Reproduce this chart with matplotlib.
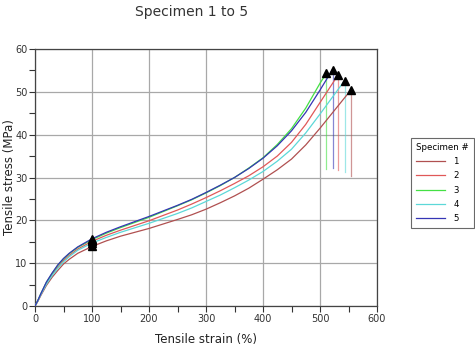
import matplotlib
matplotlib.use("Agg")
import matplotlib.pyplot as plt
from matplotlib.ticker import MultipleLocator

strain = [0, 5, 10, 20, 30, 40, 50, 60, 75, 100, 125, 150, 200, 250, 275, 300, 325,
          350, 375, 400, 425, 450, 475, 500]

stress_1 = [0, 1.1, 2.4, 4.8, 6.7, 8.3, 9.8, 10.9, 12.3, 13.9, 15.2, 16.3, 18.1, 20.2, 21.3,
            22.6, 24.1, 25.7, 27.5, 29.6, 31.8, 34.3, 37.6, 41.5]
stress_2 = [0, 1.2, 2.7, 5.3, 7.3, 9.1, 10.6, 11.8, 13.3, 15.1, 16.5, 17.7, 19.9, 22.4, 23.8,
            25.3, 26.9, 28.6, 30.4, 32.5, 35.0, 38.2, 42.4, 47.5]
stress_3 = [0, 1.3, 2.8, 5.5, 7.6, 9.5, 11.0, 12.2, 13.7, 15.5, 17.0, 18.3, 20.7, 23.4, 24.8,
            26.4, 28.1, 30.0, 32.2, 34.6, 37.7, 41.4, 46.2, 52.0]
stress_4 = [0, 1.2, 2.6, 5.1, 7.1, 8.8, 10.3, 11.5, 13.0, 14.7, 16.0, 17.2, 19.3, 21.6, 22.9,
            24.4, 25.9, 27.6, 29.4, 31.4, 33.8, 36.6, 40.4, 44.8]
stress_5 = [0, 1.3, 2.8, 5.6, 7.7, 9.6, 11.1, 12.3, 13.8, 15.7, 17.2, 18.5, 20.9, 23.5, 24.9,
            26.5, 28.2, 30.0, 32.1, 34.5, 37.4, 40.9, 45.2, 50.4]

break_strain = [554, 532, 511, 543, 522]
break_stress = [50.4, 54.0, 54.3, 52.6, 55.2]
drop_stress = [30.3, 31.7, 32.1, 31.3, 32.2]

labels = ["1", "2", "3", "4", "5"]
colors = ["#b05050", "#e05858", "#44e044", "#5cd8d8", "#3535b5"]

fig = plt.figure(figsize=(4.75, 3.51), dpi=100)
ax = fig.add_axes([35/475, 1-306/351, (377-35)/475, (306-49)/351])

series = [stress_1, stress_2, stress_3, stress_4, stress_5]
handles = []
for i, s in enumerate(series):
    xs = strain + [break_strain[i]]
    ys = s + [break_stress[i]]
    h, = ax.plot(xs, ys, color=colors[i], lw=0.9, label=labels[i], zorder=3)
    handles.append(h)
    ax.plot([break_strain[i], break_strain[i]], [break_stress[i], drop_stress[i]],
            color=colors[i], lw=0.9, alpha=0.6, zorder=2)
    ax.plot([break_strain[i]], [break_stress[i]], marker="^", color="black",
            markersize=5.5, zorder=4)
    ax.plot([100], [s[strain.index(100)]], marker="^", color="black",
            markersize=5.5, zorder=4)

ax.set_xlim(0, 600)
ax.set_ylim(0, 60)
ax.xaxis.set_major_locator(MultipleLocator(100))
ax.xaxis.set_minor_locator(MultipleLocator(50))
ax.yaxis.set_major_locator(MultipleLocator(10))
ax.yaxis.set_minor_locator(MultipleLocator(5))
ax.grid(True, which="major", color="#a8a8a8", lw=0.9, zorder=0)
ax.tick_params(which="both", direction="out", length=4, width=0.8, color="#333333",
               labelsize=7, labelcolor="#333333", pad=1.5)
for sp in ax.spines.values():
    sp.set_color("#444444")
    sp.set_linewidth(0.9)

ax.set_xlabel("Tensile strain (%)", fontsize=8.5, color="#222222", va="center")
ax.xaxis.set_label_coords(0.5, -(340-306)/257)
ax.set_ylabel("Tensile stress (MPa)", fontsize=8.5, color="#222222", va="center")
ax.yaxis.set_label_coords(-(35-10)/342, 0.5)

fig.text(192/475, 1-12/351, "Specimen 1 to 5", ha="center", va="center",
         fontsize=10, color="#333333")

leg = fig.legend(handles=handles, title="Specimen #", loc="upper left",
                 bbox_to_anchor=(411/475, 1-138/351), fontsize=6.2, title_fontsize=6.2,
                 frameon=True, fancybox=False, edgecolor="#444444",
                 handlelength=3.3, handletextpad=1.0, labelspacing=0.6,
                 borderpad=0.6, borderaxespad=0, alignment="left")
leg.get_frame().set_linewidth(0.8)

fig.savefig("out.png", dpi=100)
